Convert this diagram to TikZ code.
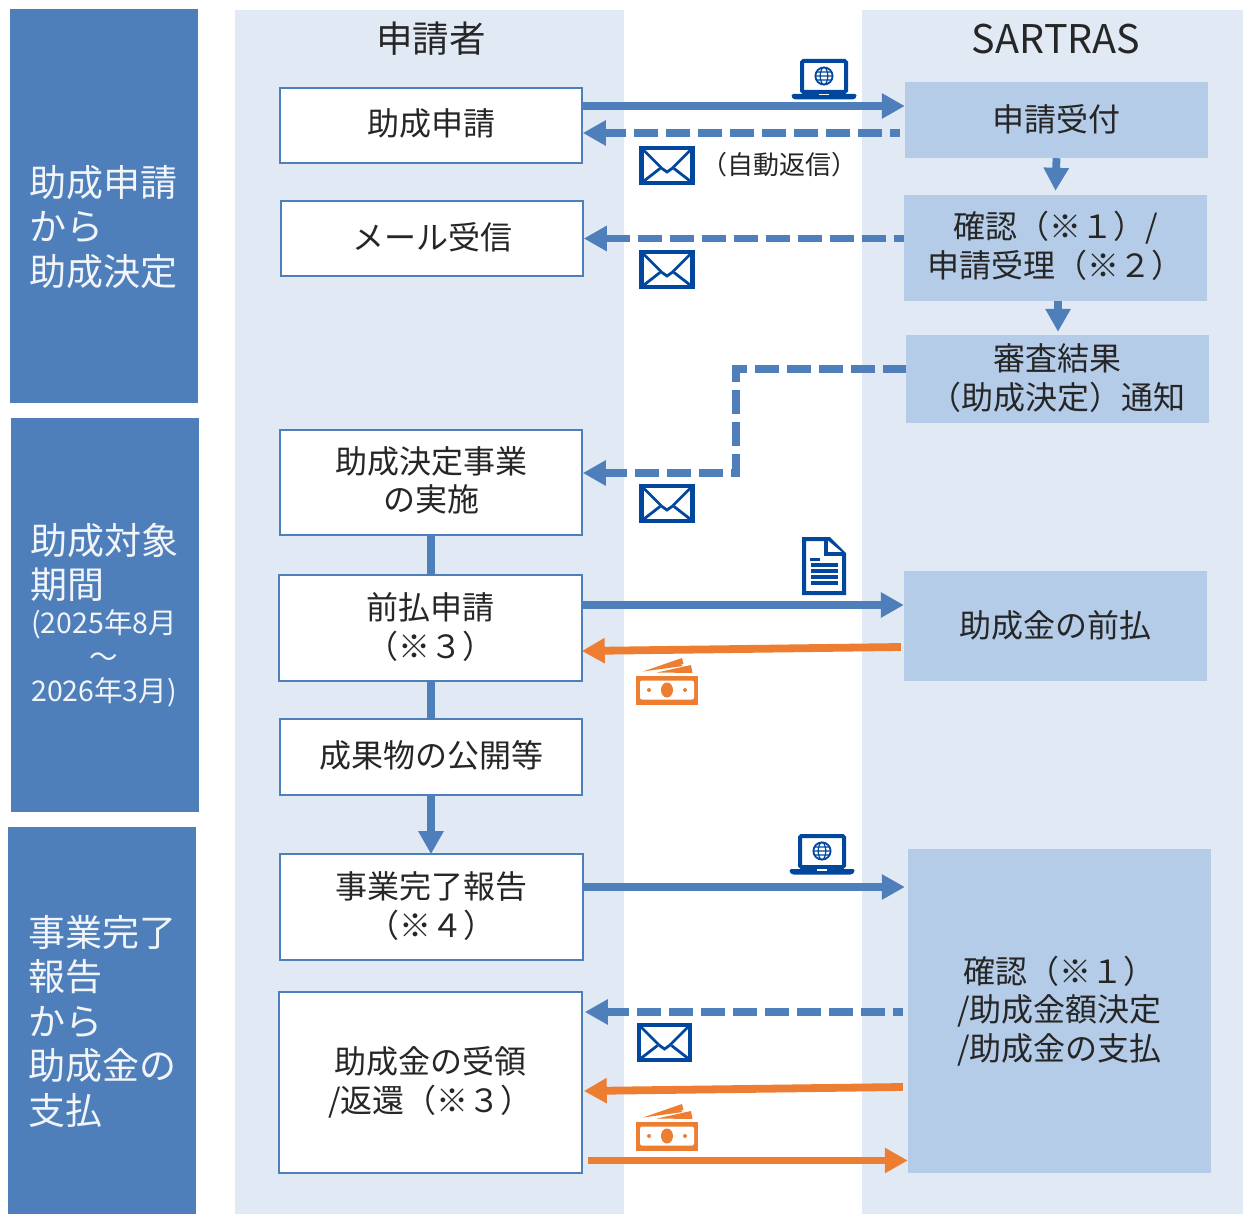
\documentclass[tikz,border=0pt]{standalone}
\usepackage{fontspec}
\setmainfont{Noto Sans CJK JP}
\usetikzlibrary{arrows.meta}
\definecolor{barblue}{HTML}{4F7FBA}
\definecolor{colbg}{HTML}{E1E9F5}
\definecolor{boxblue}{HTML}{B5CCE8}
\definecolor{iconblue}{HTML}{00479D}
\definecolor{orng}{HTML}{ED7D31}
\definecolor{ink}{HTML}{262626}
\tikzset{
  bar/.style={fill=barblue,draw=none,inner sep=0pt},
  col/.style={fill=colbg,draw=none,inner sep=0pt},
  barlabel/.style={text=white!92!barblue,font=\fontsize{37}{44.5}\selectfont,align=left,anchor=west,inner sep=0pt},
  whitebox/.style={fill=white,draw=barblue,line width=1.6pt,inner sep=0pt,text=ink,align=center,font=\fontsize{32}{38.5}\selectfont},
  bluebox/.style={fill=boxblue,draw=none,inner sep=0pt,text=ink,align=center,font=\fontsize{32}{38.5}\selectfont},
  head/.style={text=ink,font=\fontsize{36.5}{40}\selectfont,inner sep=0pt},
  note/.style={text=ink,font=\fontsize{26}{30}\selectfont,inner sep=0pt},
  flow/.style={line width=7.8pt,draw=barblue,-{Triangle[length=23pt,width=24pt]}},
  mail/.style={flow,dash pattern=on 24pt off 8pt,dash phase=14pt},
  pay/.style={line width=7.8pt,draw=orng,-{Triangle[length=23pt,width=24pt]}},
  link/.style={line width=7.8pt,draw=barblue},
  envicon/.pic={
    \draw[iconblue,line width=4.4pt,fill=white] (-25.5,-17.5) rectangle (25.5,17.5);
    \draw[iconblue,line width=2.8pt] (-25,-17) -- (-5,3) -- (0,6.5) -- (5,3) -- (25,-17);
    \draw[iconblue,line width=2.8pt] (-25,17) -- (-7,3) (25,17) -- (7,3);
  },
  lapicon/.pic={
    \draw[iconblue,line width=4pt,fill=white,rounded corners=1.5pt] (-22,-15) rectangle (22,16);
    \draw[iconblue,line width=1.8pt] (0,0) circle (8.6);
    \draw[iconblue,line width=1.2pt] (0,0) ellipse (3.8 and 8.6) (-8.6,0) -- (8.6,0) (-7.6,-4) -- (7.6,-4) (-7.6,4) -- (7.6,4);
    \fill[iconblue,rounded corners=1.5pt] (-32.5,18) -- (32.5,18) -- (32.5,21) -- (30,23.5) -- (-30,23.5) -- (-32.5,21) -- cycle;
    \fill[white] (-5,18) rectangle (5,19.5);
  },
  docicon/.pic={
    \draw[iconblue,line width=4pt,fill=white,line join=miter] (-20,-27) -- (5,-27) -- (20,-12) -- (20,27) -- (-20,27) -- cycle;
    \draw[iconblue,line width=3.4pt,fill=white,line join=miter] (2,-27) -- (2,-12) -- (20,-12);
    \fill[iconblue] (-14,-8.5) rectangle (-4,-5.5);
    \foreach \yy in {-1,5,11,17}{\fill[iconblue] (-13,\yy-1.6) rectangle (13.5,\yy+1.6);}
  },
  cashicon/.pic={
    \fill[orng] (-31,-6) rectangle (31,23);
    \fill[white,rounded corners=2pt] (-27,-1.5) rectangle (27,17.5);
    \fill[orng] (0,8) ellipse (6 and 7.5);
    \fill[orng] (-18,8) circle (2) (18,8) circle (2);
    \fill[orng] (-24,-10.5) -- (15,-24) -- (16.5,-18) -- (13.5,-17.5) -- (16,-16) -- cycle;
    \fill[orng] (-10,-9.5) -- (24,-17) -- (25.5,-9) -- cycle;
  },
}
\begin{document}
\begin{tikzpicture}[x=1pt,y=-1pt]
\useasboundingbox (0,0) rectangle (1243,1214);
% columns
\node[col,minimum width=389pt,minimum height=1204pt] (leftcol) at (429.5,612) {};
\node[col,minimum width=381pt,minimum height=1204pt] (rightcol) at (1052.5,612) {};
\node[head] (h1) at (431,39) {申請者};
\node[head,font=\fontsize{39.5}{42}\selectfont] (h2) at (1056,39) {SARTRAS};
% phase bars
\node[bar,minimum width=188pt,minimum height=394pt] (b1) at (104,206) {};
\node[bar,minimum width=188pt,minimum height=394pt] (b2) at (105,615) {};
\node[bar,minimum width=188pt,minimum height=387pt] (b3) at (102,1020.5) {};
\node[barlabel] (l1) at (29,227) {助成申請\\から\\助成決定};
\node[barlabel] (l2a) at (30,562.5) {助成対象\\期間};
\node[barlabel,font=\fontsize{28.5}{34}\selectfont] (l2b) at (31,658.5) {(2025年8月\\\makebox[146pt][c]{～}\\2026年3月)};
\node[barlabel] (l3) at (28,1021) {事業完了\\報告\\から\\助成金の\\支払};
% white boxes
\node[whitebox,text depth=6pt,minimum width=302pt,minimum height=75pt] (w1) at (431,125.5) {助成申請};
\node[whitebox,text depth=4.6pt,minimum width=302pt,minimum height=75pt] (w2) at (432,238.5) {メール受信};
\node[whitebox,text depth=6.5pt,minimum width=302pt,minimum height=105pt] (w3) at (431,482.5) {助成決定事業\\の実施};
\node[whitebox,text depth=5pt,minimum width=303pt,minimum height=106pt] (w4) at (430.5,628) {前払申請\\（※３）};
\node[whitebox,text depth=6.5pt,minimum width=302pt,minimum height=76pt] (w5) at (431,757) {成果物の公開等};
\node[whitebox,text depth=5pt,minimum width=303pt,minimum height=106pt] (w6) at (431.5,907) {事業完了報告\\（※４）};
\node[whitebox,minimum width=303pt,minimum height=181pt] (w7) at (430.5,1082.5) {助成金の受領\\/返還（※３）};
% blue boxes
\node[bluebox,text depth=4.6pt,minimum width=303pt,minimum height=76pt] (r1) at (1056.5,120) {申請受付};
\node[bluebox,text depth=7pt,minimum width=303pt,minimum height=106pt] (r2) at (1055.5,248) {確認（※１）/\\申請受理（※２）};
\node[bluebox,text depth=4.6pt,minimum width=303pt,minimum height=88pt] (r3) at (1057.5,379) {審査結果\\（助成決定）通知};
\node[bluebox,text depth=4.6pt,minimum width=303pt,minimum height=110pt] (r4) at (1055.5,626) {助成金の前払};
\node[bluebox,minimum width=303pt,minimum height=324pt] (r5) at (1059.5,1011) {確認（※１）\\/助成金額決定\\/助成金の支払};
% connectors
\draw[flow] ([yshift=19.5pt]w1.east) -- ([yshift=14pt]r1.west);
\draw[mail] ([xshift=-5pt,yshift=-13pt]r1.west) -- ([yshift=-7.5pt]w1.east);
\draw[flow] (r1.south) -- ([yshift=4pt]r2.north);
\draw[mail] (r2.west|-w2.east) -- (w2.east);
\draw[flow] ([xshift=2.5pt]r2.south) -- ([xshift=.5pt,yshift=3pt]r3.north);
\coordinate (bend) at (736,369);
\draw[mail,dash phase=1pt] ([yshift=10pt]r3.west) -- (bend) -- (bend|-473,473) -- ([yshift=9.5pt]w3.east);
\draw[link] (w3.south) -- (w4.north-|w3.south);
\draw[flow] ([yshift=23pt]w4.east) -- ([yshift=21pt]r4.west);
\draw[pay] ([xshift=-3pt,yshift=-21pt]r4.west) -- ([xshift=-1pt,yshift=-23pt]w4.east);
\draw[link] (w4.south-|w5.north) -- (w5.north);
\draw[flow] (w5.south) -- ([yshift=-1pt]w6.north-|w5.south);
\draw[flow] ([yshift=20pt]w6.east) -- ([xshift=-3pt,yshift=124pt]r5.west);
\draw[mail] ([xshift=-5pt,yshift=-1pt]r5.west) -- ([xshift=2pt,yshift=70.5pt]w7.east);
\draw[pay] ([xshift=-5pt,yshift=-76pt]r5.west) -- ([xshift=1pt,yshift=-8.5pt]w7.east);
\draw[pay] ([xshift=5pt,yshift=-78pt]w7.east) -- ([yshift=-149.5pt]r5.west);
% icons
\pic at (824,76) {lapicon};
\pic at (822,851) {lapicon};
\pic at (667,165.5) {envicon};
\pic at (667,269.5) {envicon};
\pic at (667,503.5) {envicon};
\pic at (664.5,1042.5) {envicon};
\pic at (824,566) {docicon};
\pic at (667,682) {cashicon};
\pic at (667,1128) {cashicon};
\node[note] (n1) at (779,164.5) {（自動返信）};
\end{tikzpicture}
\end{document}
